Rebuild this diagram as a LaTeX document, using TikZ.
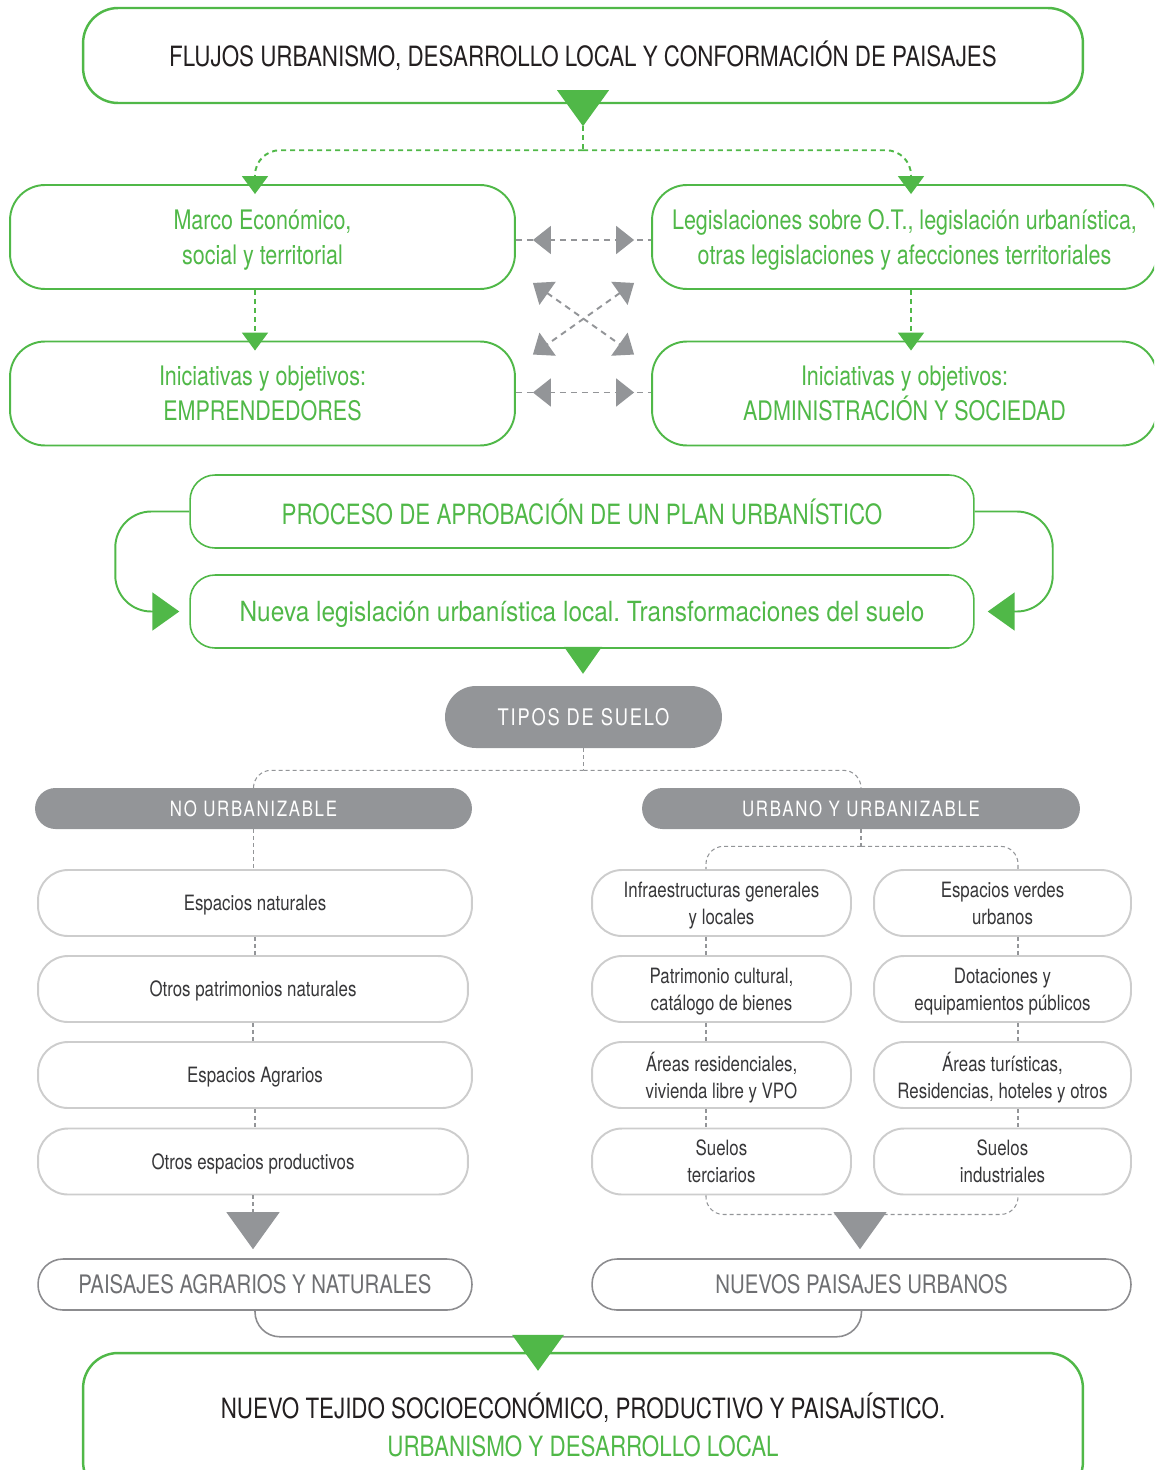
\documentclass[tikz,border=0pt]{standalone}
\usepackage{fontspec}
\setmainfont[FakeStretch=0.8]{TeX Gyre Heros}
\newfontfamily\spacedfont[FakeStretch=0.8,LetterSpace=8]{TeX Gyre Heros}
\newfontfamily\widefont[FakeStretch=0.88]{TeX Gyre Heros}
\usepackage{xcolor}
\usetikzlibrary{calc}
\usetikzlibrary{arrows.meta}
\usetikzlibrary{decorations.markings}

\definecolor{lgreen}{RGB}{80,184,72}
\definecolor{midgrey}{RGB}{147,149,152}
\definecolor{lightgrey}{RGB}{205,205,205}
\definecolor{darkgrey}{RGB}{140,140,143}
\definecolor{textdark}{RGB}{35,31,32}
\definecolor{textgrey}{RGB}{55,55,57}
\definecolor{landtext}{RGB}{110,111,114}

\newcommand{\downtri}[4]{\fill[#1] (#2) -- ++(-#3,-#4) -- ++(2*#3,0) -- cycle;}

\tikzset{
  gtri/.tip={Triangle[length=0.36cm,width=0.52cm]},
  ytri/.tip={Triangle[length=0.36cm,width=0.56cm]},
  mainbox/.style={draw=lgreen, line width=1.4pt, rounded corners=0.7cm, align=center,
    text=textdark, font=\fontsize{15.9}{22}\selectfont, minimum width=20cm},
  greenbox/.style={draw=lgreen, line width=1.1pt, rounded corners=0.7cm, align=center, text depth=-2pt,
    text=lgreen, font=\fontsize{15.3}{19.8}\selectfont, minimum width=10.1cm, minimum height=2.08cm},
  procbox/.style={draw=lgreen, line width=0.9pt, rounded corners=0.5cm, align=center, text depth=0pt,
    text=lgreen, font=\fontsize{15.9}{19}\selectfont, minimum width=15.68cm, minimum height=1.46cm},
  greypill/.style={fill=midgrey, text=white, align=center},
  itembox/.style={draw=lightgrey, line width=1.1pt, rounded corners=0.6cm, align=center, text depth=-3pt,
    text=textgrey, font=\fontsize{12}{15.4}\selectfont, minimum height=1.32cm},
  landbox/.style={draw=darkgrey, line width=0.9pt, rounded corners=0.5cm, align=center,
    text=landtext, font=\fontsize{14.5}{18}\selectfont, minimum height=1.02cm},
  gdash/.style={draw=lgreen, line width=1.1pt, dash pattern=on 0.1cm off 0.08cm},
  greydash/.style={draw=midgrey, line width=1.1pt, dash pattern=on 0.12cm off 0.1cm},
  thindash/.style={draw=midgrey, line width=0.6pt, dash pattern=on 0.08cm off 0.06cm},
  gline/.style={draw=lgreen, line width=1.1pt},
  landline/.style={draw=darkgrey, line width=0.9pt},
  twoway/.style={greydash, postaction={decorate}, decoration={markings,
    mark=at position 0.34cm with {\arrowreversed{ytri}},
    mark=at position -0.34cm with {\arrow{ytri}}}}
}

\begin{document}
\begin{tikzpicture}[x=0.02cm, y=-0.02cm]
  \useasboundingbox (0,0) rectangle (1154,1470);
  \clip (0,0) rectangle (1154,1470);

  % flujos
  \node[mainbox, minimum height=1.9cm] (title) at (583,55.5) {FLUJOS URBANISMO, DESARROLLO LOCAL Y CONFORMACIÓN DE PAISAJES};
  \node[greenbox] (marco) at (262.5,237) {Marco Económico,\\ social y territorial};
  \node[greenbox] (legis) at (904.5,237) {Legislaciones sobre O.T., legislación urbanística,\\ otras legislaciones y afecciones territoriales};
  \node[greenbox] (inic1) at (262.5,393.5) {Iniciativas y objetivos:\\ EMPRENDEDORES};
  \node[greenbox] (inic2) at (904.5,393.5) {Iniciativas y objetivos:\\ ADMINISTRACIÓN Y SOCIEDAD};

  \downtri{lgreen}{$(title.south)+(0,22)$}{26}{36}
  \draw[gdash] ($(title.south)+(0,22)$) -- ++(0,24) coordinate (tsplit);
  \draw[gdash, rounded corners=0.5cm, -gtri] (tsplit) -| ($(marco.north)+(-7.5,10)$);
  \draw[gdash, rounded corners=0.5cm, -gtri] (tsplit) -| ($(legis.north)+(6.5,10)$);
  \draw[gdash, -gtri] ($(marco.south)+(-7.5,0)$) -- ($(inic1.north)+(-7.5,10)$);
  \draw[gdash, -gtri] ($(legis.south)+(6.5,0)$) -- ($(inic2.north)+(6.5,10)$);

  \draw[twoway] ($(marco.east)+(0,3)$) -- ($(legis.west)+(0,3)$);
  \draw[twoway] ($(inic1.east)+(0,-1)$) -- ($(inic2.west)+(0,-1)$);
  \coordinate (d1) at ($(marco.south east)+(17,-7)$);
  \coordinate (d2) at ($(inic2.north west)+(-17,14)$);
  \coordinate (d3) at ($(legis.south west)+(-17,-7)$);
  \coordinate (d4) at ($(inic1.north east)+(17,14)$);
  \draw[greydash, ytri-ytri] (d1) -- (d2);
  \draw[greydash, ytri-ytri] (d3) -- (d4);

  % plan urbanistico
  \node[procbox] (proceso) at (582,511.5) {PROCESO DE APROBACIÓN DE UN PLAN URBANÍSTICO};
  \node[procbox, font=\widefont\frenchspacing\fontsize{15.8}{19}\selectfont] (nueva) at (582,611.5) {Nueva legislación urbanística local. Transformaciones del suelo};
  \draw[gline, rounded corners=0.72cm, -{Triangle[length=0.54cm,width=0.76cm]}] (proceso.west) -- ++(-74,0) |- ($(nueva.west)+(-10,0)$);
  \draw[gline, rounded corners=0.72cm, -{Triangle[length=0.54cm,width=0.76cm]}] (proceso.east) -- ++(78,0) |- ($(nueva.east)+(13,0)$);
  \downtri{lgreen}{$(nueva.south)+(1,25)$}{19}{27}

  % tipos de suelo
  \node[greypill, rounded corners=0.62cm, minimum width=5.54cm, minimum height=1.24cm,
    font=\spacedfont\fontsize{13}{15}\selectfont] (tipos) at (583.5,717) {TIPOS DE SUELO};
  \node[greypill, rounded corners=0.41cm, minimum width=8.74cm, minimum height=0.82cm,
    font=\spacedfont\fontsize{12}{14}\selectfont] (nourb) at (253.5,808.5) {NO URBANIZABLE};
  \node[greypill, rounded corners=0.41cm, minimum width=8.76cm, minimum height=0.82cm,
    font=\spacedfont\fontsize{12}{14}\selectfont] (urb) at (861,808.5) {URBANO Y URBANIZABLE};
  \draw[thindash] (tipos.south) -- ++(0,22) coordinate (ssplit);
  \draw[thindash, rounded corners=0.35cm] (ssplit) -| (nourb.north);
  \draw[thindash, rounded corners=0.35cm] (ssplit) -| (urb.north);

  % no urbanizable
  \node[itembox, text depth=0pt, minimum width=8.68cm] (esp1) at (255,903) {Espacios naturales};
  \node[itembox, text depth=0pt, minimum width=8.6cm] (esp2) at (253,989) {Otros patrimonios naturales};
  \node[itembox, text depth=0pt, minimum width=8.68cm] (esp3) at (255,1075) {Espacios Agrarios};
  \node[itembox, text depth=0pt, minimum width=8.6cm] (esp4) at (253,1161.5) {Otros espacios productivos};
  \draw[thindash] (nourb.south) -- (nourb.south |- esp1.north);
  \foreach \a/\b in {esp1/esp2, esp2/esp3, esp3/esp4}
    \draw[thindash] (\a.south) -- (\a.south |- \b.north);

  % urbano y urbanizable
  \node[itembox, minimum width=5.18cm] (infra) at (721.5,903) {Infraestructuras generales\\ y locales};
  \node[itembox, minimum width=5.18cm] (patr) at (721.5,989) {Patrimonio cultural,\\ catálogo de bienes};
  \node[itembox, minimum width=5.18cm] (resid) at (721.5,1075) {Áreas residenciales,\\ vivienda libre y VPO};
  \node[itembox, minimum width=5.18cm] (terc) at (721.5,1161.5) {Suelos\\ terciarios};
  \node[itembox, minimum width=5.14cm] (verdes) at (1002.5,903) {Espacios verdes\\ urbanos};
  \node[itembox, minimum width=5.14cm] (dotac) at (1002.5,989) {Dotaciones y\\ equipamientos públicos};
  \node[itembox, minimum width=5.14cm] (turis) at (1002.5,1075) {Áreas turísticas,\\ Residencias, hoteles y otros};
  \node[itembox, minimum width=5.14cm] (indus) at (1002.5,1161.5) {Suelos\\ industriales};
  \draw[thindash] (urb.south) -- ++(0,17) coordinate (usplit);
  \draw[thindash, rounded corners=0.35cm] (usplit) -| ($(infra.north)+(-15.5,0)$);
  \draw[thindash, rounded corners=0.35cm] (usplit) -| ($(verdes.north)+(15.5,0)$);
  \foreach \a/\b in {infra/patr, patr/resid, resid/terc}
    \draw[thindash] ($(\a.south)+(-15.5,0)$) -- ($(\b.north)+(-15.5,0)$);
  \foreach \a/\b in {verdes/dotac, dotac/turis, turis/indus}
    \draw[thindash] ($(\a.south)+(15.5,0)$) -- ($(\b.north)+(15.5,0)$);
  \draw[thindash, rounded corners=0.35cm] ($(terc.south)+(-15.5,0)$) -- ++(0,19) -| ($(indus.south)+(15.5,0)$);

  % paisajes
  \node[landbox, minimum width=8.68cm] (paisA) at (255,1284.5) {PAISAJES AGRARIOS Y NATURALES};
  \node[landbox, minimum width=10.78cm] (paisU) at (861.5,1284.5) {NUEVOS PAISAJES URBANOS};
  \draw[thindash, -{Triangle[length=0.74cm,width=1.06cm,color=midgrey]}] (esp4.south) -- ($(paisA.north)+(-2,-9)$);
  \downtri{midgrey}{$(paisU.north)+(-1.5,-9)$}{26.5}{37}
  \draw[landline, rounded corners=0.5cm] (paisA.south) |- ($(paisA.south)!0.5!(paisU.south)+(0,26)$) -| (paisU.south);

  \node[mainbox, minimum height=2.88cm] (final) at (583,1425) {NUEVO TEJIDO SOCIOECONÓMICO, PRODUCTIVO Y PAISAJÍSTICO.\\ \textcolor{lgreen}{URBANISMO Y DESARROLLO LOCAL}};
  \downtri{lgreen}{$(final.north)+(-45,19)$}{26}{36}
\end{tikzpicture}
\end{document}
